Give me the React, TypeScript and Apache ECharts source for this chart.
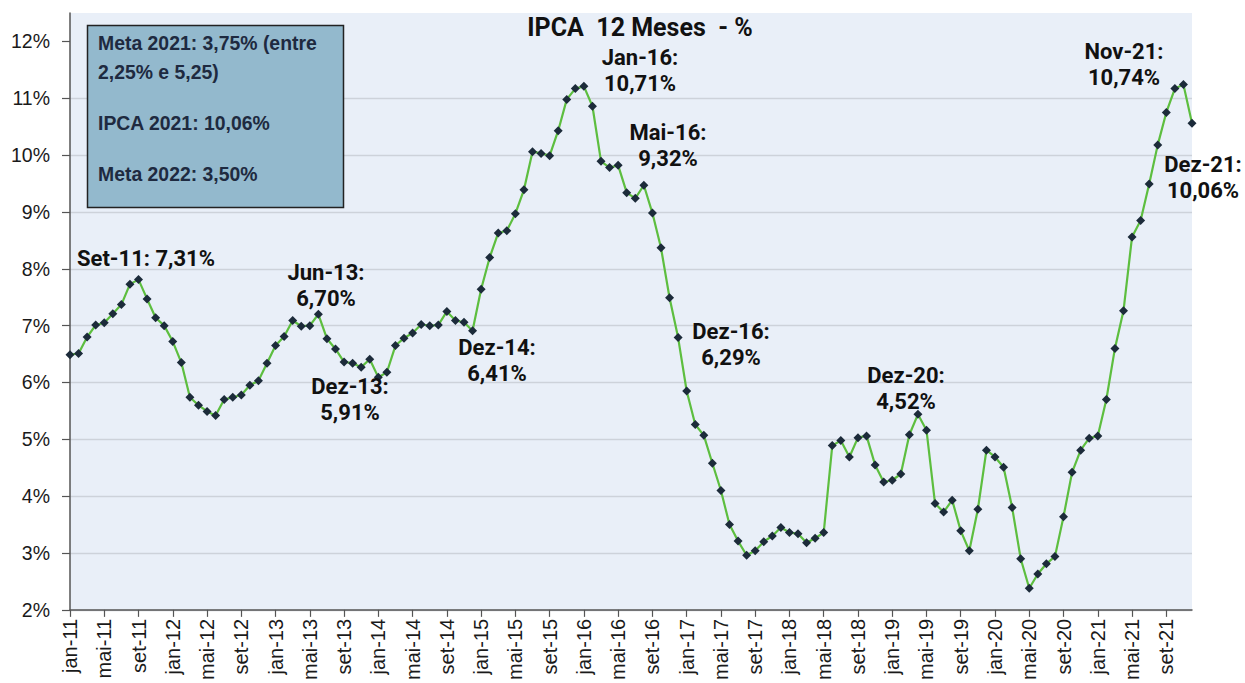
import React, { useEffect, useRef } from "react";
import * as echarts from "echarts";

const MONTHS_PT = ["jan", "fev", "mar", "abr", "mai", "jun", "jul", "ago", "set", "out", "nov", "dez"];
const YEARS = ["11", "12", "13", "14", "15", "16", "17", "18", "19", "20", "21"];

const v2011 = [6.49, 6.51, 6.8, 7.01, 7.05, 7.21, 7.37, 7.73, 7.81, 7.47, 7.14, 7.0];
const v2012 = [6.72, 6.35, 5.74, 5.6, 5.49, 5.42, 5.7, 5.74, 5.78, 5.95, 6.03, 6.34];
const v2013 = [6.65, 6.81, 7.09, 6.99, 7.0, 7.2, 6.77, 6.59, 6.36, 6.34, 6.27, 6.41];
const v2014 = [6.09, 6.18, 6.65, 6.78, 6.87, 7.02, 7.0, 7.01, 7.25, 7.09, 7.06, 6.91];
const v2015 = [7.64, 8.2, 8.63, 8.67, 8.97, 9.39, 10.06, 10.03, 9.99, 10.43, 10.98, 11.17];
const v2016 = [11.21, 10.86, 9.89, 9.78, 9.82, 9.34, 9.24, 9.47, 8.98, 8.37, 7.49, 6.79];
const v2017 = [5.85, 5.26, 5.07, 4.58, 4.1, 3.5, 3.21, 2.96, 3.04, 3.2, 3.3, 3.45];
const v2018 = [3.36, 3.34, 3.18, 3.26, 3.36, 4.89, 4.98, 4.69, 5.03, 5.06, 4.55, 4.25];
const v2019 = [4.28, 4.39, 5.08, 5.44, 5.16, 3.87, 3.72, 3.93, 3.39, 3.04, 3.77, 4.81];
const v2020 = [4.69, 4.51, 3.8, 2.9, 2.38, 2.63, 2.81, 2.94, 3.64, 4.42, 4.81, 5.02];
const v2021 = [5.06, 5.7, 6.6, 7.26, 8.56, 8.85, 9.49, 10.18, 10.75, 11.17, 11.24, 10.56];

const VALUES = [
  ...v2011, ...v2012, ...v2013, ...v2014, ...v2015, ...v2016,
  ...v2017, ...v2018, ...v2019, ...v2020, ...v2021,
];

const CATEGORIES: string[] = [];
YEARS.forEach((y) => MONTHS_PT.forEach((m) => CATEGORIES.push(`${m}-${y}`)));

const Y_TICKS = [2, 3, 4, 5, 6, 7, 8, 9, 10, 11, 12];

const TITLE = "IPCA  12 Meses  - %";
const BOX_LINES = ["Meta 2021: 3,75% (entre", "2,25% e 5,25)", "IPCA 2021: 10,06%", "Meta 2022: 3,50%"];

const ANNOTATIONS: { text: string; x: number; y: number; align: string }[] = [
  { text: "Set-11: 7,31%", x: 77, y: 258, align: "left" },
  { text: "Jun-13:\n6,70%", x: 326, y: 285, align: "center" },
  { text: "Dez-13:\n5,91%", x: 350, y: 399, align: "center" },
  { text: "Dez-14:\n6,41%", x: 497, y: 360, align: "center" },
  { text: "Jan-16:\n10,71%", x: 640, y: 70, align: "center" },
  { text: "Mai-16:\n9,32%", x: 668, y: 145, align: "center" },
  { text: "Dez-16:\n6,29%", x: 731, y: 344, align: "center" },
  { text: "Dez-20:\n4,52%", x: 906, y: 388, align: "center" },
  { text: "Nov-21:\n10,74%", x: 1124, y: 64, align: "center" },
  { text: "Dez-21:\n10,06%", x: 1203, y: 177, align: "center" },
];

const BOX_TEXT_Y = [43, 72, 123, 174];

export default function App() {
  const ref = useRef<HTMLDivElement>(null);

  useEffect(() => {
    document.body.style.margin = "0";
    if (!ref.current) return;
    const chart = echarts.init(ref.current, undefined, { renderer: "svg" });

    const graphic: any[] = [
      {
        type: "text",
        z: 100,
        x: 640,
        y: 27,
        style: {
          text: TITLE,
          font: "bold 25px Roboto",
          fill: "#111",
          textAlign: "center",
          textVerticalAlign: "middle",
        },
      },
      {
        type: "rect",
        z: 100,
        shape: { x: 87.5, y: 25.5, width: 256, height: 182 },
        style: { fill: "#93B9CD", stroke: "#222", lineWidth: 1.5 },
      },
      ...BOX_LINES.map((t, i) => ({
        type: "text",
        z: 101,
        x: 98,
        y: BOX_TEXT_Y[i],
        style: {
          text: t,
          font: "bold 19.4px 'Liberation Sans'",
          fill: "#1E2A40",
          textAlign: "left",
          textVerticalAlign: "middle",
        },
      })),
      ...ANNOTATIONS.map((a) => ({
        type: "text",
        z: 101,
        x: a.x,
        y: a.y,
        style: {
          text: a.text,
          font: "bold 22px Roboto",
          lineHeight: 26,
          fill: "#111",
          textAlign: a.align,
          textVerticalAlign: "middle",
        },
      })),
    ];

    chart.setOption({
      animation: false,
      backgroundColor: "#ffffff",
      grid: {
        left: 70,
        top: 13,
        right: 53,
        bottom: 72,
        show: true,
        backgroundColor: "#E9EFF8",
        borderWidth: 0,
      },
      xAxis: {
        type: "category",
        data: CATEGORIES,
        boundaryGap: false,
        axisLine: { lineStyle: { color: "#555", width: 1.5 } },
        axisTick: { show: true, interval: 3, length: 7, lineStyle: { color: "#555", width: 1.2 } },
        axisLabel: {
          interval: 3,
          rotate: 90,
          fontSize: 20,
          color: "#1a1a1a",
          fontFamily: "'Liberation Sans', Arial, sans-serif",
          margin: 9,
        },
        splitLine: { show: false },
      },
      yAxis: {
        type: "value",
        min: 2,
        max: 12.5,
        interval: 1,
        axisLine: { show: true, lineStyle: { color: "#555", width: 1.5 } },
        axisTick: { show: true, length: 8, customValues: Y_TICKS, lineStyle: { color: "#555", width: 1.2 } },
        axisLabel: {
          customValues: Y_TICKS,
          formatter: (v: number) => (Number.isInteger(v) ? `${v}%` : ""),
          fontSize: 19.5,
          color: "#1a1a1a",
          fontFamily: "'Liberation Sans', Arial, sans-serif",
          margin: 20,
        },
        splitLine: { show: true, showMaxLine: false, lineStyle: { color: "#CDD2DA", width: 1.3 } },
      },
      series: [
        {
          type: "line",
          data: VALUES,
          symbol: "diamond",
          symbolSize: 9,
          showAllSymbol: true,
          itemStyle: { color: "#1C2B3A" },
          lineStyle: { color: "#5DBE3F", width: 2.2 },
          z: 5,
        },
      ],
      graphic,
    });

    return () => chart.dispose();
  }, []);

  return <div ref={ref} style={{ width: 1245, height: 683 }} />;
}
